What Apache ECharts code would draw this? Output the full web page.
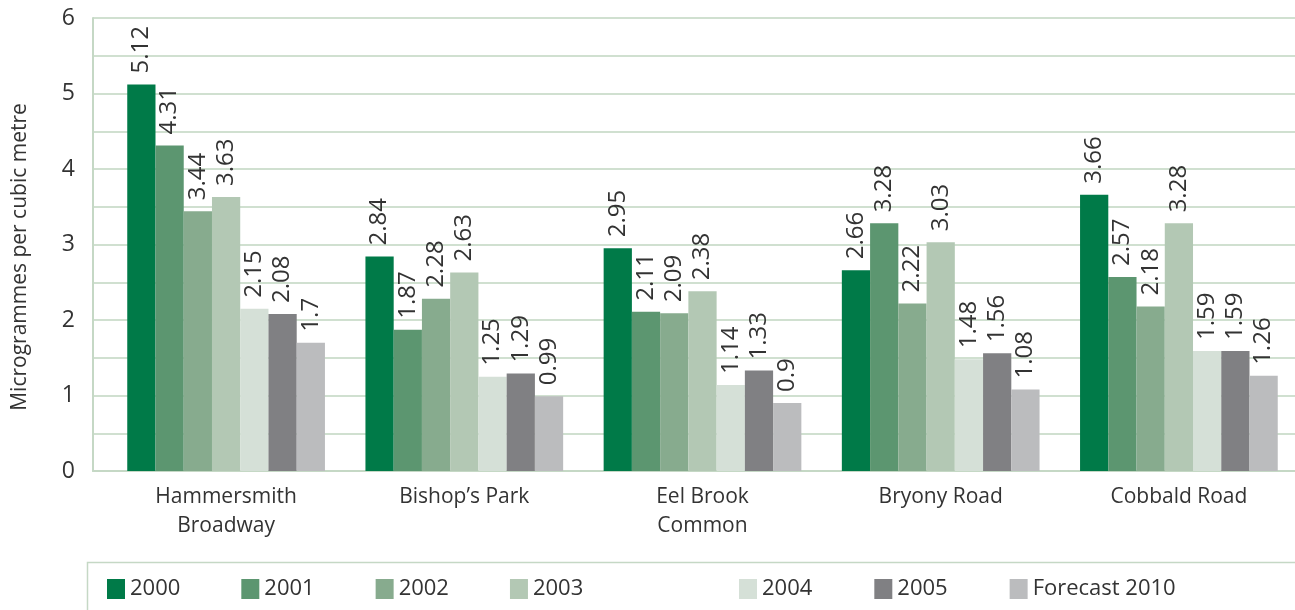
<!DOCTYPE html>
<html lang="en">
<head>
    <meta charset="utf-8" />
    <title>PM</title>
    <script src="https://cdn.jsdelivr.net/npm/echarts@6/dist/echarts.min.js"></script>
</head>
<body style="margin:0;background:#fff">
    <div id="container" style="width:1295px;height:610px;"></div>
<script type="text/javascript">
    var sites = ['Hammersmith\nBroadway', 'Bishop\u2019s Park', 'Eel Brook\nCommon', 'Bryony Road', 'Cobbald Road'];
    var years = ['2000', '2001', '2002', '2003', '2004', '2005', 'Forecast 2010'];
    var v2000 = [5.12, 2.84, 2.95, 2.66, 3.66];
    var v2001 = [4.31, 1.87, 2.11, 3.28, 2.57];
    var v2002 = [3.44, 2.28, 2.09, 2.22, 2.18];
    var v2003 = [3.63, 2.63, 2.38, 3.03, 3.28];
    var v2004 = [2.15, 1.25, 1.14, 1.48, 1.59];
    var v2005 = [2.08, 1.29, 1.33, 1.56, 1.59];
    var v2010 = [1.7, 0.99, 0.9, 1.08, 1.26];
    var colours = ['#007a48', '#5c9670', '#87ab8e', '#b3c8b4', '#d5e0d7', '#808083', '#bbbcbe'];

    var font = '"Open Sans", "Noto Sans", sans-serif';
    var values = [v2000, v2001, v2002, v2003, v2004, v2005, v2010];

    var series = [];
    for (var i = 0; i < years.length; i++) {
        series.push({
            name: years[i],
            type: 'bar',
            xAxisIndex: 1,
            yAxisIndex: 1,
            data: values[i],
            barGap: 0,
            barCategoryGap: '17%',
            itemStyle: { color: colours[i] },
            label: {
                show: true,
                position: 'top',
                rotate: 90,
                align: 'left',
                verticalAlign: 'middle',
                distance: 11,
                fontFamily: font,
                fontSize: 24,
                color: '#333'
            }
        });
    }

    var legendText = { fontFamily: font, fontSize: 22, color: '#333' };

    var myChart = echarts.init(document.getElementById('container'));
    var option = {
        animation: false,
        // grid 0 draws the frame and gridlines, grid 1 holds the bars
        grid: [
            { left: 93, right: 0, top: 18, bottom: 139, outerBoundsMode: 'none' },
            { left: 107, right: -3, top: 18, bottom: 139, outerBoundsMode: 'none' }
        ],
        legend: [{
            data: years.slice(0, 4),
            left: 107, top: 578, padding: 0,
            icon: 'rect', itemWidth: 18, itemHeight: 20, itemGap: 61,
            textStyle: legendText
        }, {
            data: years.slice(4),
            left: 739, top: 578, padding: 0,
            icon: 'rect', itemWidth: 18, itemHeight: 20, itemGap: 62,
            textStyle: legendText
        }],
        graphic: [{
            type: 'rect',
            shape: { x: 87.5, y: 562.5, width: 1220, height: 60 },
            style: { fill: 'none', stroke: '#c5d8c5', lineWidth: 1.5 },
            silent: true
        }, {
            type: 'text',
            x: 20, y: 257,
            rotation: Math.PI / 2,
            style: {
                text: 'Microgrammes per cubic metre',
                font: '21px ' + font,
                fill: '#333',
                align: 'center',
                verticalAlign: 'middle'
            },
            silent: true
        }],
        xAxis: [{
            gridIndex: 0,
            type: 'value',
            min: 0, max: 1,
            axisLine: { show: true, onZero: false, lineStyle: { color: '#c5d8c5', width: 2 } },
            axisTick: { show: false },
            axisLabel: { show: false },
            splitLine: { show: false }
        }, {
            gridIndex: 1,
            type: 'category',
            data: sites,
            axisLine: { show: false },
            axisTick: { show: false },
            axisLabel: { fontFamily: font, fontSize: 21, color: '#333', margin: 12, lineHeight: 29 }
        }],
        yAxis: [{
            gridIndex: 0,
            type: 'value',
            min: 0, max: 6, interval: 0.5,
            axisLine: { show: true, lineStyle: { color: '#c5d8c5', width: 2 } },
            axisTick: { show: false },
            axisLabel: {
                fontFamily: font, fontSize: 23, color: '#333', margin: 18,
                formatter: function (v) { return v % 1 === 0 ? String(v) : ''; }
            },
            splitLine: { lineStyle: { color: '#d0e0d0', width: 2 } }
        }, {
            gridIndex: 1,
            type: 'value',
            min: 0, max: 6, interval: 0.5,
            show: false
        }],
        series: series
    };
    myChart.setOption(option);
</script>
</body>
</html>
